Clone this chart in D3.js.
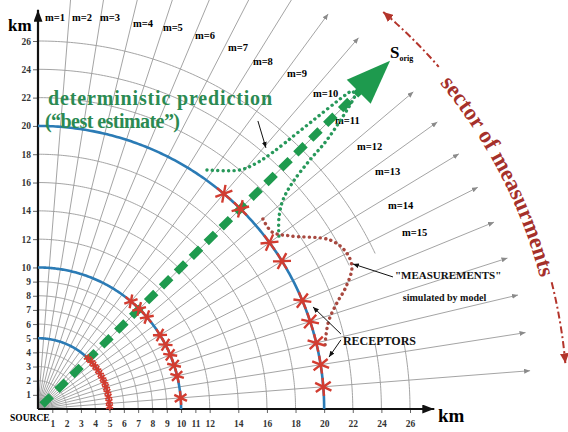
<!DOCTYPE html>
<html>
  <head>
    <meta charset="utf-8">
    <title>Sector of measurements</title>
    <script src="https://d3js.org/d3.v7.min.js"></script>
    <style>
      body { margin: 0; background: #fff; }
    </style>
  </head>
  <body>
    <script>
      // ==================
      // values (km, degrees)
      // ==================
      const xTicks = [1, 2, 3, 4, 5, 6, 7, 8, 9, 10, 11, 12, 14, 16, 18, 20, 22, 24, 26];
      const yTicks = [1, 2, 3, 4, 5, 6, 7, 8, 9, 10, 12, 14, 16, 18, 20, 22, 24, 26];
      const gridRadii = [1, 2, 3, 4, 5, 6, 7, 8, 9, 10, 12, 14, 16, 18, 20, 22];
      const outerRadii = [24, 26];
      const rayAngles = [4.5, 9, 13.5, 18, 22.5, 27, 31.5, 36, 40.5, 45, 49.5, 54, 58.5, 63, 67.5, 72, 76.5, 81, 85.5];

      const mNames = ["m=1", "m=2", "m=3", "m=4", "m=5", "m=6", "m=7", "m=8", "m=9", "m=10", "m=11", "m=12", "m=13", "m=14", "m=15"];
      const mX = [0.49, 2.38, 4.33, 6.64, 8.73, 10.97, 13.28, 15.02, 17.4, 19.22, 20.76, 22.29, 23.55, 24.46, 25.44];
      const mY = [27.7, 27.7, 27.7, 27.28, 27.0, 26.43, 25.58, 24.59, 23.75, 22.33, 20.42, 18.59, 16.82, 14.42, 12.51];

      const predictionRadii = [5, 10, 20];
      const receptors5 = [2, 6, 10, 14, 18, 22, 26, 30, 34, 38, 42, 46];
      const receptors10 = [4.5, 13.5, 18, 22.5, 27, 31.5, 40.5, 45, 49.5];
      const receptors20 = [4.5, 9, 13.5, 18, 22.5, 31.5, 36, 45, 49.5];

      // uncertainty envelope of the prediction (green dots)
      const envelope = [
        [11.81, 16.89], [14.12, 16.89], [15.30, 17.39], [16.35, 18.09], [18.31, 19.65],
        [21.59, 22.26], [21.94, 22.47], [22.15, 22.19], [22.01, 21.84], [20.20, 19.01],
        [19.01, 17.6], [17.82, 16.04], [17.12, 14.77], [16.84, 13.5], [16.84, 12.16]
      ];
      // "measurements" simulated by model (red dots)
      const measured = [
        [15.72, 13.43], [16.35, 12.51], [17.61, 12.23], [20.41, 11.94], [21.52, 11.1],
        [21.94, 10.04], [21.52, 8.62], [20.89, 7.49], [20.34, 6.29], [20.13, 5.23], [20.06, 4.4]
      ];

      const serif = "'Liberation Serif', 'Times New Roman', serif";
      const width = 568;
      const height = 432;

      const x = d3.scaleLinear().domain([0, 26]).range([38, 410]);
      const y = d3.scaleLinear().domain([0, 26]).range([409, 41]);

      const rad = Math.PI / 180;
      function pt(r, a) {
        return [x(r * Math.cos(a * rad)), y(r * Math.sin(a * rad))];
      }
      function arcPts(r, a0, a1) {
        const step = a1 > a0 ? 0.5 : -0.5;
        return d3.range(a0, a1 + step / 10, step).map(function(a) { return pt(r, a); });
      }
      const line = d3.line();

      const svg = d3.select("body")
        .append("svg")
          .attr("width", width)
          .attr("height", height);

      const defs = svg.append("defs");
      function marker(id, w, h, color) {
        defs.append("marker")
          .attr("id", id)
          .attr("viewBox", "0 0 " + w + " " + h)
          .attr("refX", w)
          .attr("refY", h / 2)
          .attr("markerWidth", w)
          .attr("markerHeight", h)
          .attr("markerUnits", "userSpaceOnUse")
          .attr("orient", "auto-start-reverse")
          .append("path")
            .attr("d", "M0,0L" + w + "," + (h / 2) + "L0," + h + "Z")
            .attr("fill", color);
      }
      marker("rayHead", 6, 5, "#8a8a8a");
      marker("axisHead", 12, 9, "#111");
      marker("leadHead", 6, 5, "#111");
      marker("redHead", 10, 9, "#b3342b");

      // ---- polar grid
      const grid = svg.append("g")
        .attr("fill", "none")
        .attr("stroke", "#9a9a9a")
        .attr("stroke-width", 0.9);

      gridRadii.forEach(function(r) {
        grid.append("path").attr("d", line(arcPts(r, 0, 90)));
      });
      outerRadii.forEach(function(r) {
        grid.append("path").attr("d", line(arcPts(r, 0, 11)));
        grid.append("path").attr("d", line(arcPts(r, 25, 90)));
      });
      rayAngles.forEach(function(a) {
        grid.append("path")
          .attr("d", line([pt(0, a), pt(34.5, a)]))
          .attr("marker-end", "url(#rayHead)");
      });

      // ---- axes
      const gx = svg.append("g")
        .attr("transform", "translate(0," + y(0) + ")")
        .call(d3.axisBottom(x).tickValues(xTicks).tickSize(4).tickPadding(7).tickSizeOuter(0));
      gx.select(".domain").remove();

      const gy = svg.append("g")
        .attr("transform", "translate(" + x(0) + ",0)")
        .call(d3.axisLeft(y).tickValues(yTicks).tickSize(5).tickPadding(2).tickSizeOuter(0));
      gy.select(".domain").remove();

      [gx, gy].forEach(function(g) {
        g.selectAll("text")
          .attr("font-family", serif)
          .attr("font-weight", "bold")
          .attr("font-size", 9.5)
          .attr("fill", "#333");
        g.selectAll("line").attr("stroke", "#666");
      });

      svg.append("line")
        .attr("x1", x(0)).attr("y1", y(0))
        .attr("x2", x(27.7)).attr("y2", y(0))
        .attr("stroke", "#111").attr("stroke-width", 2.2)
        .attr("marker-end", "url(#axisHead)");
      svg.append("line")
        .attr("x1", x(0)).attr("y1", y(0))
        .attr("x2", x(0)).attr("y2", y(28.2))
        .attr("stroke", "#111").attr("stroke-width", 2.2)
        .attr("marker-end", "url(#axisHead)");

      svg.append("text")
        .attr("x", 438).attr("y", 422)
        .attr("font-family", serif).attr("font-weight", "bold").attr("font-size", 19)
        .text("km");
      svg.append("text")
        .attr("x", 8).attr("y", 31)
        .attr("font-family", serif).attr("font-weight", "bold").attr("font-size", 17)
        .text("km");
      svg.append("text")
        .attr("x", 10).attr("y", 421)
        .attr("font-family", serif).attr("font-weight", "bold").attr("font-size", 9.5)
        .text("SOURCE");

      // ---- m labels
      svg.append("g")
        .attr("font-family", serif)
        .attr("font-weight", "bold")
        .attr("font-size", 10.5)
        .selectAll("text")
        .data(mNames)
        .join("text")
          .attr("x", function(d, i) { return x(mX[i]); })
          .attr("y", function(d, i) { return y(mY[i]); })
          .attr("dy", "0.35em")
          .text(function(d) { return d; });

      // ---- deterministic prediction arcs
      svg.append("g")
        .attr("fill", "none")
        .attr("stroke", "#2b7bb5")
        .attr("stroke-width", 2.6)
        .selectAll("path")
        .data(predictionRadii)
        .join("path")
          .attr("d", function(r) { return line(arcPts(r, 0, 90)); });

      // receptors on the 5 km arc sit close together
      svg.append("path")
        .attr("d", line(arcPts(5, 0, 48)))
        .attr("fill", "none")
        .attr("stroke", "#c8453a")
        .attr("stroke-width", 2.2);

      // ---- green prediction arrow
      svg.append("path")
        .attr("d", line([pt(0.4, 45), pt(31.8, 45)]))
        .attr("fill", "none")
        .attr("stroke", "#1e9a4e")
        .attr("stroke-width", 7.5)
        .attr("stroke-dasharray", "13,8");

      const tip = pt(34.8, 45);
      const base = pt(31.7, 45);
      const len = Math.hypot(tip[0] - base[0], tip[1] - base[1]);
      const nx = -(tip[1] - base[1]) / len;
      const ny = (tip[0] - base[0]) / len;
      svg.append("path")
        .attr("d", line([tip, [base[0] + 17 * nx, base[1] + 17 * ny], [base[0] - 17 * nx, base[1] - 17 * ny]]) + "Z")
        .attr("fill", "#1e9a4e");

      // ---- dotted curves
      const smooth = d3.line()
        .x(function(d) { return x(d[0]); })
        .y(function(d) { return y(d[1]); })
        .curve(d3.curveCatmullRom);

      svg.append("path")
        .attr("d", smooth(envelope))
        .attr("fill", "none")
        .attr("stroke", "#27985a")
        .attr("stroke-width", 3.4)
        .attr("stroke-linecap", "round")
        .attr("stroke-dasharray", "0.1,5.3");

      svg.append("path")
        .attr("d", smooth(measured))
        .attr("fill", "none")
        .attr("stroke", "#a8483f")
        .attr("stroke-width", 3.4)
        .attr("stroke-linecap", "round")
        .attr("stroke-dasharray", "0.1,5.3");

      // ---- receptors
      const receptorSets = [
        {r: 5, angles: receptors5, size: 45, w: 1.8},
        {r: 10, angles: receptors10, size: 140, w: 2.4},
        {r: 20, angles: receptors20, size: 230, w: 2.4}
      ];
      const rec = svg.append("g")
        .attr("fill", "none")
        .attr("stroke", "#d23c30");
      receptorSets.forEach(function(s) {
        const sym = d3.symbol().type(d3.symbolAsterisk).size(s.size);
        s.angles.forEach(function(a) {
          const p = pt(s.r, a);
          rec.append("path")
            .attr("d", sym())
            .attr("stroke-width", s.w)
            .attr("transform", "translate(" + p[0] + "," + p[1] + ") rotate(" + (-a) + ")");
        });
      });

      // ---- annotations
      function note(txt, kx, ky, size, color, len) {
        const t = svg.append("text")
          .attr("x", x(kx)).attr("y", y(ky))
          .attr("font-family", serif)
          .attr("font-weight", "bold")
          .attr("font-size", size)
          .attr("fill", color)
          .text(txt);
        if (len) t.attr("textLength", len);
        return t;
      }
      note("deterministic prediction", 0.70, 21.48, 20, "#2b8a52", 224);
      note("(\u201Cbest estimate\u201D)", 0.49, 19.86, 20, "#2b8a52", 135);
      note("\"MEASUREMENTS\"", 24.95, 9.15, 11, "#111");
      note("simulated by model", 25.5, 7.65, 10, "#111");
      note("RECEPTORS", 21.31, 4.52, 12, "#111");

      const sLabel = svg.append("text")
        .attr("x", 390).attr("y", 58)
        .attr("font-family", serif)
        .attr("font-weight", "bold")
        .attr("font-size", 17);
      sLabel.append("tspan").text("S");
      sLabel.append("tspan").attr("font-size", 8).attr("dy", 3).text("orig");

      const leaders = [
        [[24.81, 9.33], [22.01, 10.25]],
        [[21.17, 5.3], [19.22, 7.21]],
        [[21.17, 4.88], [20.34, 3.67]],
        [[15.37, 20.35], [15.93, 18.45]]
      ];
      leaders.forEach(function(l) {
        svg.append("path")
          .attr("d", line(l.map(function(p) { return [x(p[0]), y(p[1])]; })))
          .attr("stroke", "#111")
          .attr("stroke-width", 1)
          .attr("marker-end", "url(#leadHead)");
      });

      // ---- sector of measurements
      const sector = svg.append("g")
        .attr("fill", "none")
        .attr("stroke", "#b3342b")
        .attr("stroke-width", 2)
        .attr("stroke-dasharray", "7,3,2,3");
      sector.append("path")
        .attr("d", line(arcPts(37, 49.3, 40.5)))
        .attr("marker-start", "url(#redHead)");
      sector.append("path")
        .attr("d", line(arcPts(37, 14, 4.6)))
        .attr("marker-end", "url(#redHead)");

      defs.append("path")
        .attr("id", "sectorPath")
        .attr("d", line(arcPts(36.3, 40, 0)));
      svg.append("text")
        .attr("font-family", serif)
        .attr("font-weight", "bold")
        .attr("font-size", 23)
        .attr("fill", "#a5302a")
        .append("textPath")
          .attr("href", "#sectorPath")
          .attr("startOffset", 6)
          .text("sector of measurments");
    </script>
  </body>
</html>
